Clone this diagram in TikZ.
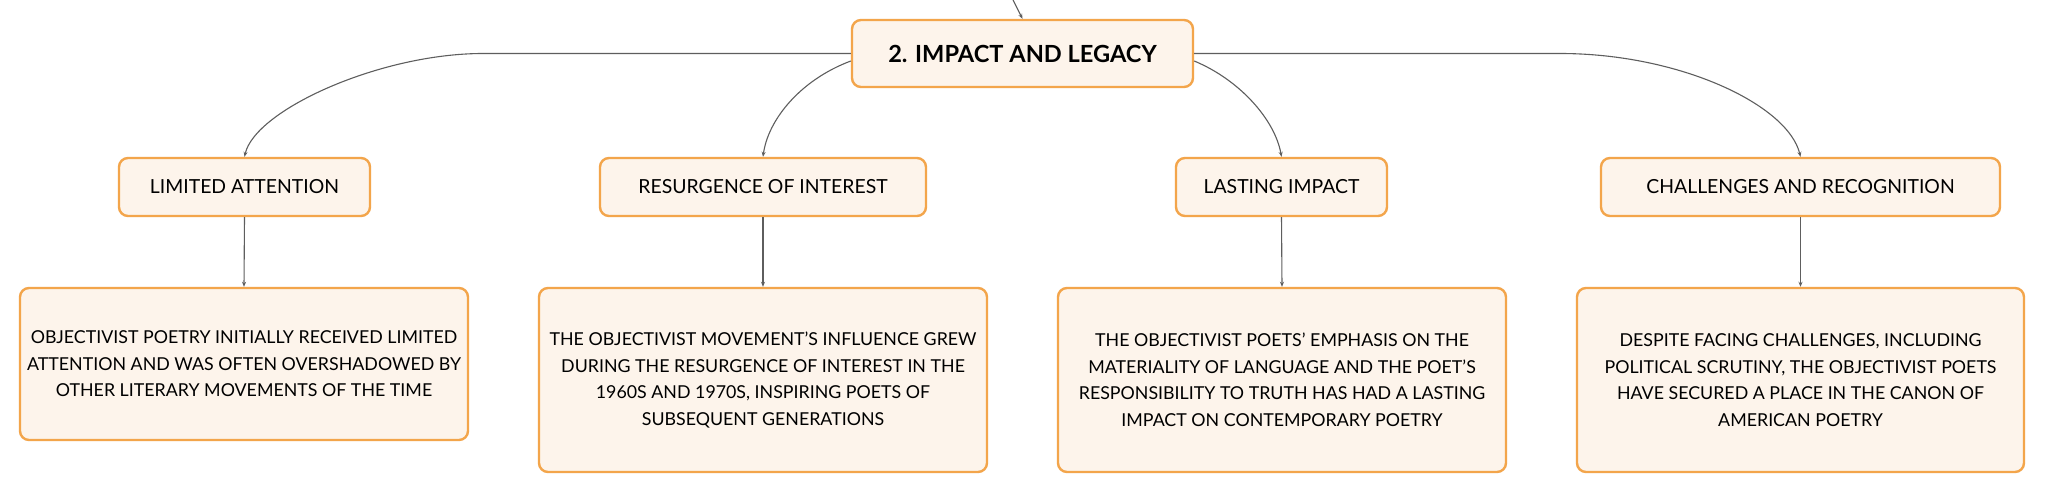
\documentclass[tikz,border=0pt]{standalone}
\usepackage{fontspec}
\setmainfont{Lato}
\usetikzlibrary{arrows.meta,calc}
\definecolor{boxfill}{HTML}{FDF4EB}
\definecolor{boxdraw}{HTML}{F3A54B}
\definecolor{linegray}{HTML}{5E5E5E}
\tikzset{
  box/.style={draw=boxdraw, fill=boxfill, line width=2.4pt, rounded corners=9pt, inner sep=0pt, align=center, text=black},
  mainbox/.style={box, minimum width=341pt, minimum height=67pt, font=\fontsize{23.6}{28}\selectfont\bfseries},
  topicbox/.style={box, minimum height=58pt, font=\fontsize{19.4}{23}\selectfont},
  detailbox/.style={box, minimum width=448pt, font=\fontsize{17.8}{26.5}\selectfont},
  conn/.style={draw=linegray, line width=1.1pt, -{Stealth[length=5pt,width=4pt]}}
}
\begin{document}
\begin{tikzpicture}[x=1pt,y=-1pt]
\useasboundingbox (0,0) rectangle (2046,494);
\fill[white] (0,0) rectangle (2046,494);

\node[mainbox] (main) at (1022.5,53.5) {2. IMPACT AND LEGACY};

\node[topicbox, minimum width=251pt] (la) at (244.5,187) {LIMITED ATTENTION};
\node[topicbox, minimum width=326pt] (ri) at (763,187) {RESURGENCE OF INTEREST};
\node[topicbox, minimum width=211pt] (li) at (1281.5,187) {LASTING IMPACT};
\node[topicbox, minimum width=399pt] (cr) at (1800.5,187) {CHALLENGES AND RECOGNITION};

\node[detailbox, minimum height=152pt] (lad) at (244,364) {OBJECTIVIST POETRY INITIALLY RECEIVED LIMITED\\ATTENTION AND WAS OFTEN OVERSHADOWED BY\\OTHER LITERARY MOVEMENTS OF THE TIME};
\node[detailbox, minimum height=184pt] (rid) at (763,380) {THE OBJECTIVIST MOVEMENT'S INFLUENCE GREW\\DURING THE RESURGENCE OF INTEREST IN THE\\1960S AND 1970S, INSPIRING POETS OF\\SUBSEQUENT GENERATIONS};
\node[detailbox, minimum height=184pt] (lid) at (1282,380) {THE OBJECTIVIST POETS' EMPHASIS ON THE\\MATERIALITY OF LANGUAGE AND THE POET'S\\RESPONSIBILITY TO TRUTH HAS HAD A LASTING\\IMPACT ON CONTEMPORARY POETRY};
\node[detailbox, minimum height=184pt, minimum width=447pt] (crd) at (1800.5,380) {DESPITE FACING CHALLENGES, INCLUDING\\POLITICAL SCRUTINY, THE OBJECTIVIST POETS\\HAVE SECURED A PLACE IN THE CANON OF\\AMERICAN POETRY};

\coordinate (top) at (1013,0);
\draw[conn] (top) .. controls (1017,8) .. (main.north);

\draw[conn] (main.west) -- (483,53.5) .. controls (380,53.5) and (255,110) .. (la.north);
\draw[conn] ($(main.west)+(0,7.5)$) .. controls (800,80) and (768,120) .. (ri.north);
\draw[conn] ($(main.east)+(0,7.5)$) .. controls (1240,80) and (1275,120) .. (li.north);
\draw[conn] (main.east) -- (1560,53.5) .. controls (1680,53.5) and (1788,105) .. (cr.north);

\draw[conn] (la.south) -- (lad.north);
\draw[conn] (ri.south) -- (rid.north);
\draw[conn] (li.south) -- (lid.north);
\draw[conn] (cr.south) -- (crd.north);
\end{tikzpicture}
\end{document}
